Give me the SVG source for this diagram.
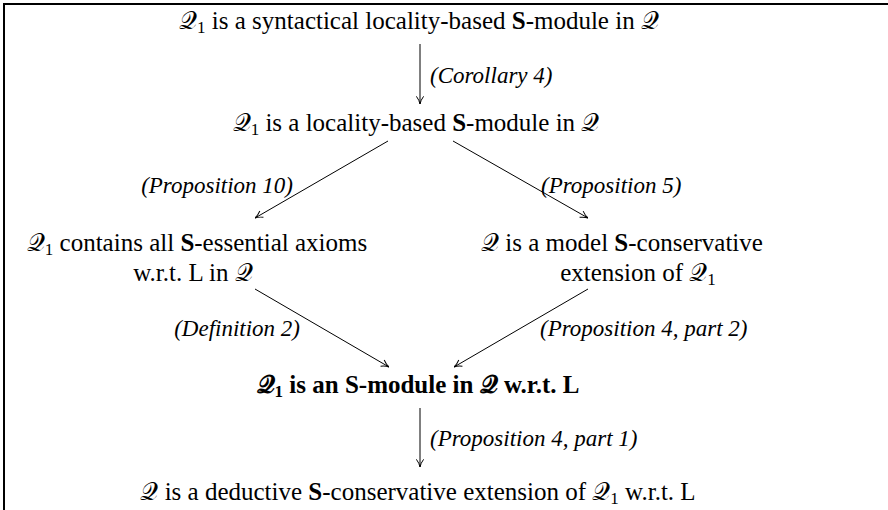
<svg xmlns="http://www.w3.org/2000/svg" width="888" height="510" viewBox="0 0 888 510">
<defs>
<style>
.t{font-family:"Liberation Serif","DejaVu Serif",serif;font-size:25px;fill:#000;text-anchor:middle}
.lab{font-family:"Liberation Serif","DejaVu Serif",serif;font-size:23px;font-style:italic;fill:#000}
.b{font-weight:bold}
.q{font-family:"DejaVu Serif","DejaVu Sans","Noto Sans",serif;font-style:normal}
.s{font-size:17px}
.e{stroke:#000;stroke-width:1;fill:none;marker-end:url(#arr)}
.frame{stroke:#000;stroke-width:2;fill:none}
</style>
<marker id="arr" viewBox="0 0 10 10" refX="10" refY="5" markerWidth="9" markerHeight="9" orient="auto" markerUnits="userSpaceOnUse">
<path d="M1.5,1 Q6,4.3 10,5 Q6,5.7 1.5,9" fill="none" stroke="#000" stroke-width="1.1"/>
</marker>
</defs>
<rect width="888" height="510" fill="#fff"/>
<path class="frame" d="M4,510 V4 H888"/>

<g id="n1"><text class="t" x="419" y="29"><tspan class="q">𝒬</tspan><tspan class="s" dy="4">1</tspan><tspan dy="-4"> is a syntactical locality-based </tspan><tspan class="b">S</tspan>-module in <tspan class="q">𝒬</tspan></text></g>
<g id="n2"><text class="t" x="416" y="131"><tspan class="q">𝒬</tspan><tspan class="s" dy="4">1</tspan><tspan dy="-4"> is a locality-based </tspan><tspan class="b">S</tspan>-module in <tspan class="q">𝒬</tspan></text></g>
<g id="n3"><text class="t" x="197" y="251"><tspan class="q">𝒬</tspan><tspan class="s" dy="4">1</tspan><tspan dy="-4"> contains all </tspan><tspan class="b">S</tspan>-essential axioms</text>
<text class="t" x="193" y="281">w.r.t. L in <tspan class="q">𝒬</tspan></text></g>
<g id="n4"><text class="t" x="622" y="251"><tspan class="q">𝒬</tspan> is a model <tspan class="b">S</tspan>-conservative</text>
<text class="t" x="638" y="281">extension of <tspan class="q">𝒬</tspan><tspan class="s" dy="4">1</tspan></text></g>
<g id="n5"><text class="t b" x="418" y="393"><tspan class="q" font-weight="bold">𝒬</tspan><tspan class="s" dy="4">1</tspan><tspan dy="-4"> is an S-module in </tspan><tspan class="q" font-weight="bold">𝒬</tspan> w.r.t. L</text></g>
<g id="n6"><text class="t" x="418" y="500"><tspan class="q">𝒬</tspan> is a deductive <tspan class="b">S</tspan>-conservative extension of <tspan class="q">𝒬</tspan><tspan class="s" dy="4">1</tspan><tspan dy="-4"> w.r.t. L</tspan></text></g>

<g id="connectors">
<line class="e" x1="420" y1="44" x2="420" y2="104"/>
<line class="e" x1="388" y1="141" x2="255" y2="218"/>
<line class="e" x1="453" y1="141" x2="588" y2="218"/>
<line class="e" x1="255" y1="289" x2="389" y2="367"/>
<line class="e" x1="588" y1="289" x2="454" y2="367"/>
<line class="e" x1="420" y1="408" x2="420" y2="467"/>
<text class="lab" x="430" y="83">(Corollary 4)</text>
<text class="lab" x="293" y="193" text-anchor="end">(Proposition 10)</text>
<text class="lab" x="541" y="193">(Proposition 5)</text>
<text class="lab" x="300" y="336" text-anchor="end">(Definition 2)</text>
<text class="lab" x="540" y="336">(Proposition 4, part 2)</text>
<text class="lab" x="430" y="446">(Proposition 4, part 1)</text>
</g>
</svg>
